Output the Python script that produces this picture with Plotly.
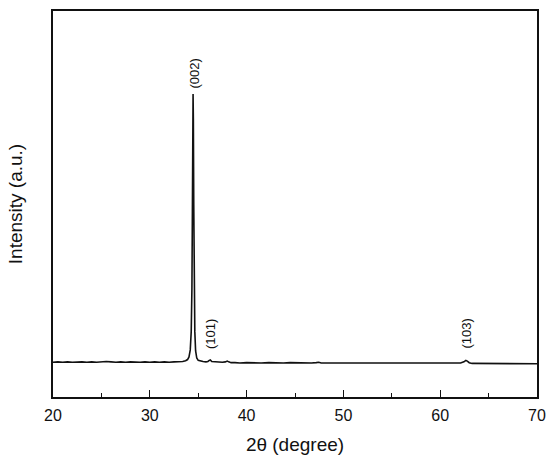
import plotly.graph_objects as go

two_theta = [20, 20.5, 21, 21.5, 22, 22.5, 23, 23.5, 24, 24.5, 25, 25.5, 26, 26.5, 27, 27.5, 28, 28.5,
             29, 29.5, 30, 30.5, 31, 31.5, 32, 32.5, 33, 33.4, 33.7, 33.9, 34.05, 34.18, 34.28, 34.35,
             34.4, 34.44, 34.47, 34.5, 34.54, 34.59, 34.65, 34.73, 34.85, 35.0, 35.2, 35.5, 35.8, 36.0,
             36.15, 36.25, 36.4, 36.7, 37.1, 37.5, 37.8, 38.0, 38.15, 38.4, 38.8, 39.3, 40, 40.7, 41.5,
             42.3, 43, 43.8, 44.5, 45.3, 46, 46.7, 47.2, 47.45, 47.7, 48.1, 48.8, 49.5, 50.3, 51, 51.8,
             52.5, 53.3, 54, 54.8, 55.5, 56.3, 57, 57.8, 58.5, 59.3, 60, 60.8, 61.5, 62.1, 62.45, 62.65,
             62.8, 63.0, 63.3, 63.8, 64.5, 65.3, 66, 66.8, 67.5, 68.3, 69, 69.6, 70]
intensity = [90, 91, 90, 91, 90, 91, 91, 90, 91, 90, 91, 92, 91, 90, 91, 90, 91, 90,
             90, 91, 90, 91, 90, 91, 90, 91, 91, 92, 94, 97, 104, 122, 170, 280,
             480, 690, 785, 720, 500, 290, 170, 120, 101, 95, 93, 92, 91, 92,
             95, 96, 92, 91, 90, 90, 91, 93, 91, 89, 89, 88, 89, 88, 88,
             89, 88, 88, 89, 88, 88, 88, 89, 90, 88, 88, 87, 88, 88, 87, 88,
             87, 88, 87, 87, 88, 87, 87, 88, 87, 87, 87, 88, 87, 88, 91, 95,
             93, 89, 87, 87, 87, 87, 86, 87, 87, 86, 87, 86, 86]

peak_labels = ["(002)", "(101)", "(103)"]
peak_pos = [34.6, 36.25, 62.75]
label_base = [795, 120, 120]

fig = go.Figure()
fig.add_trace(go.Scatter(x=two_theta, y=intensity, mode="lines",
                         line=dict(color="#111111", width=1.6), showlegend=False))

for lab, px, py in zip(peak_labels, peak_pos, label_base):
    fig.add_annotation(x=px, y=py, text=lab, textangle=-90, showarrow=False,
                       xanchor="center", yanchor="bottom",
                       font=dict(family="Liberation Sans, Arial, sans-serif", size=13, color="#111111"))

fig.update_layout(
    width=550, height=461,
    margin=dict(l=53, r=13, t=11, b=64),
    paper_bgcolor="white", plot_bgcolor="white",
    font=dict(family="Liberation Sans, Arial, sans-serif", color="#111111"),
    xaxis=dict(range=[20, 70], tickmode="array", tickvals=[20, 30, 40, 50, 60, 70],
               ticks="inside", ticklen=7, tickwidth=1.3, tickcolor="#111111",
               minor=dict(tickvals=[25, 35, 45, 55, 65], ticks="inside", ticklen=4,
                          tickwidth=1.3, tickcolor="#111111"),
               showline=True, linecolor="#111111", linewidth=1.5, mirror=True,
               showgrid=False, zeroline=False, automargin=False,
               tickfont=dict(size=16), ticklabelstandoff=3,
               title=dict(text="2θ (degree)", font=dict(size=19), standoff=15)),
    yaxis=dict(range=[0, 1000], showticklabels=False, ticks="",
               showline=True, linecolor="#111111", linewidth=1.5, mirror=True,
               showgrid=False, zeroline=False, automargin=False,
               title=dict(text="Intensity (a.u.)", font=dict(size=19), standoff=24)),
)

fig.write_html("out.html", config={"displayModeBar": False})

with open("out.html", "r", encoding="utf-8") as f:
    html = f.read()
html = html.replace("<head>", "<head><style>html,body{margin:0;padding:0;overflow:hidden;}</style>", 1)
with open("out.html", "w", encoding="utf-8") as f:
    f.write(html)
